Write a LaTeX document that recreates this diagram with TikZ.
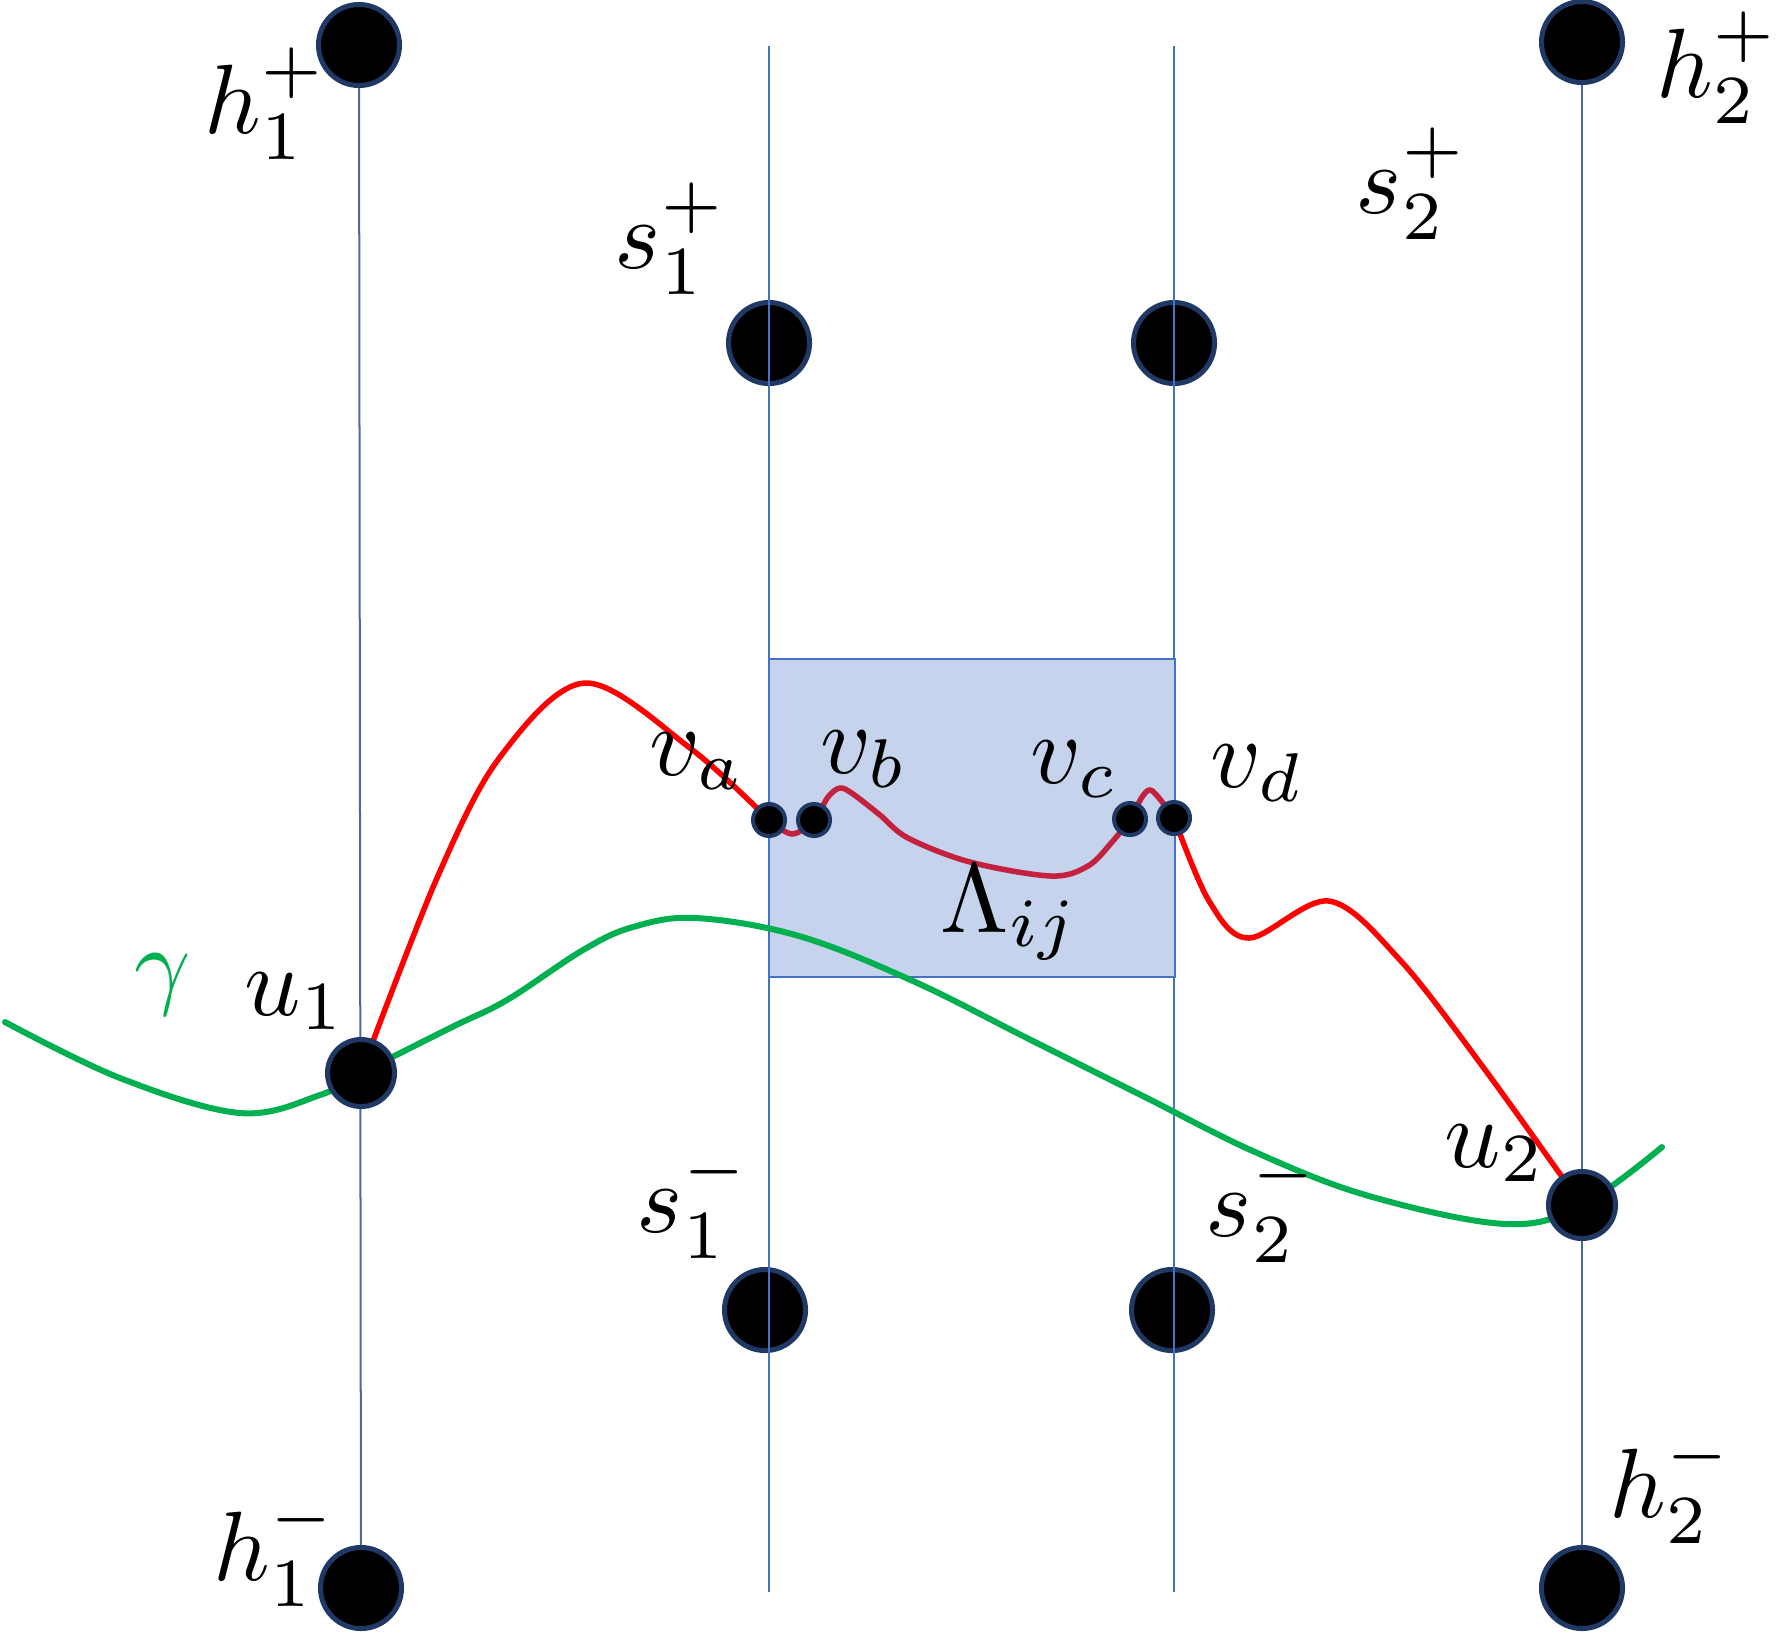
\documentclass[tikz,border=0pt]{standalone}
\pgfdeclarelayer{back}
\pgfdeclarelayer{mid}
\pgfsetlayers{back,mid,main}
\definecolor{dotedge}{HTML}{1F3864}
\definecolor{sblue}{HTML}{4472C4}
\definecolor{hblue}{HTML}{4A6A9E}
\definecolor{boxfill}{HTML}{C5D3EC}
\definecolor{gammagreen}{HTML}{00B050}
\definecolor{crim}{HTML}{C4213E}
\tikzset{
  bigdot/.style={circle, fill=black, draw=dotedge, line width=0.05cm, inner sep=0pt, minimum size=0.81cm},
  middot/.style={circle, fill=black, draw=dotedge, line width=0.05cm, inner sep=0pt, minimum size=0.67cm},
  smalldot/.style={circle, fill=black, draw=dotedge, line width=0.04cm, inner sep=0pt, minimum size=0.32cm},
  lab/.style={inner sep=0pt, anchor=base west, scale=2.8},
  sline/.style={draw=sblue, line width=0.02cm},
  hline/.style={draw=hblue, line width=0.02cm},
  redpath/.style={draw=red, line width=0.055cm, line cap=round},
  crimpath/.style={draw=crim, line width=0.055cm, line cap=round},
  greenpath/.style={draw=gammagreen, line width=0.06cm, line cap=round},
  regionbox/.style={fill=boxfill, draw=sblue, line width=0.02cm}
}
\begin{document}
\begin{tikzpicture}[x=0.01cm, y=-0.01cm]
\useasboundingbox (0,0) rectangle (1788,1632);

% main-layer dots
\node[bigdot] (h1p) at (359,45) {};
\node[bigdot] (h1m) at (361,1588) {};
\node[bigdot] (h2p) at (1582,42) {};
\node[bigdot] (h2m) at (1582,1588) {};
\node[middot] (u1) at (361,1073) {};
\node[middot] (u2) at (1582,1205) {};
\node[smalldot] (va) at (769,820) {};
\node[smalldot] (vb) at (814,820) {};
\node[smalldot] (vc) at (1130,819) {};
\node[smalldot] (vd) at (1174,818) {};

\begin{pgfonlayer}{back}
  \node[bigdot] (s1p) at (769,343) {};
  \node[bigdot] (s2p) at (1174,343) {};
  \node[bigdot] (s1m) at (765,1310) {};
  \node[bigdot] (s2m) at (1172,1310) {};
  \coordinate (s1top) at (769,46);
  \coordinate (s1bot) at (769,1592);
  \coordinate (s2top) at (1174,46);
  \coordinate (s2bot) at (1174,1592);
  \draw[sline] (s1top) -- (s1bot);
  \draw[sline] (s2top) -- (s2bot);
  \coordinate (boxnw) at (769,659);
  \coordinate (boxse) at (1175,977);
  \draw[regionbox] (boxnw) rectangle (boxse);
\end{pgfonlayer}

\begin{pgfonlayer}{mid}
  \draw[hline] (h1p) -- (h1m);
  \draw[hline] (h2p) -- (h2m);
  % green curve gamma
  \draw[greenpath] plot[smooth, tension=0.6] coordinates {
    (5,1022) (120,1078) (240,1113) (320,1095) (u1.center) (450,1028) (507,1000)
    (583,950) (633,927) (696,918) (799,936) (913,981) (1027,1038) (1141,1095)
    (1255,1152) (1369,1196) (1506,1224) (u2.center) (1662,1147)};
  % red path outside
  \draw[redpath] plot[smooth, tension=0.55] coordinates {
    (u1.center) (437,878) (500,757) (585,683) (690,748) (va.center)};
  \draw[crimpath] plot[smooth, tension=0.55] coordinates {
    (va.center) (792,834) (vb.center) (828,797) (840,788) (853,794) (880,815)
    (908,838) (970,862) (1051,876) (1088,866) (1112,842) (vc.center)
    (1142,797) (1150,790) (1159,798) (vd.center)};
  \draw[redpath] plot[smooth, tension=0.55] coordinates {
    (vd.center) (1209,901) (1249,938) (1329,901) (1400,960)
    (1483,1067) (u2.center)};
\end{pgfonlayer}

% labels
\node[lab] (lh1p) at (203,133) {$h_1^+$};
\node[lab] (lh2p) at (1655,97) {$h_2^+$};
\node[lab] (ls1p) at (613,268) {$s_1^+$};
\node[lab] (ls2p) at (1354,213) {$s_2^+$};
\node[lab] (ls1m) at (635,1232) {$s_1^-$};
\node[lab] (ls2m) at (1204,1236) {$s_2^-$};
\node[lab] (lh1m) at (212,1580) {$h_1^-$};
\node[lab] (lh2m) at (1608,1517) {$h_2^-$};
\node[lab] (lu1) at (243,1015) {$u_1$};
\node[lab] (lu2) at (1443,1167) {$u_2$};
\node[lab] (lva) at (648,775) {$v_a$};
\node[lab] (lvb) at (819,773) {$v_b$};
\node[lab] (lvc) at (1029,783) {$v_c$};
\node[lab] (lvd) at (1209,787) {$v_d$};
\node[lab] (llam) at (939,932) {$\Lambda_{ij}$};
\node[lab, text=gammagreen] (lgam) at (133,996) {$\gamma$};
\end{tikzpicture}
\end{document}
